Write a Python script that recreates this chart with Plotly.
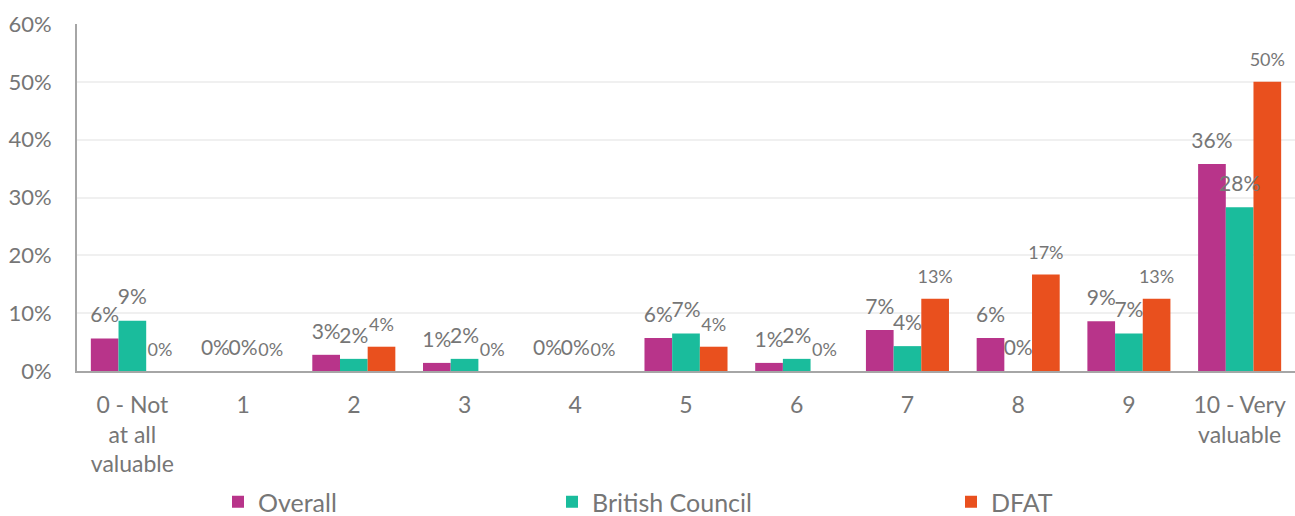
import plotly.graph_objects as go

categories = ["0 - Not<br>at all<br>valuable", "1", "2", "3", "4", "5", "6", "7", "8", "9", "10 - Very<br>valuable"]
overall = [0.056, 0.0, 0.028, 0.014, 0.0, 0.057, 0.014, 0.071, 0.057, 0.086, 0.358]
british_council = [0.087, 0.0, 0.021, 0.021, 0.0, 0.065, 0.021, 0.043, 0.0, 0.065, 0.283]
dfat = [0.0, 0.0, 0.042, 0.0, 0.0, 0.042, 0.0, 0.125, 0.167, 0.125, 0.50]
y_ticks = [0, 0.1, 0.2, 0.3, 0.4, 0.5, 0.6]

FONT = "Lato"
GREY = "#767676"
L = 77
W = 1295
H = 516
PW = W - L
BARGAP = 0.25

positions = list(range(len(categories)))
bar_w = (1 - BARGAP) / 3

fig = go.Figure()
series = [
    ("Overall", overall, "#B8348A", 21, "legend", 236),
    ("British Council", british_council, "#1ABC9C", 21, "legend2", 570),
    ("DFAT", dfat, "#E9501E", 18, "legend3", 969),
]
for name, vals, col, fs, lg, _ in series:
    fig.add_trace(go.Bar(
        x=positions, y=vals, name=name,
        marker=dict(color=col, line=dict(width=0)),
        legend=lg, showlegend=True, hoverinfo="y+name",
    ))
for k, (name, vals, col, fs, lg, _) in enumerate(series):
    fig.add_trace(go.Scatter(
        x=[p + (k - 1) * bar_w for p in positions], y=vals,
        mode="markers+text",
        marker=dict(size=16, opacity=0),
        text=[f"{int(v * 100 + 0.5)}%" for v in vals],
        textposition="top center",
        textfont=dict(family=FONT, size=fs, color=GREY),
        showlegend=False, hoverinfo="skip", cliponaxis=False,
    ))

layout_legends = {}
for name, vals, col, fs, lg, px in series:
    layout_legends[lg] = dict(
        x=(px - 18 - L) / PW, y=(H - 502) / H, yref="container",
        xanchor="left", yanchor="middle",
        font=dict(family=FONT, size=25, color=GREY), bgcolor="rgba(0,0,0,0)",
        itemwidth=30, tracegroupgap=0,
    )

fig.update_layout(
    width=W, height=H,
    margin=dict(l=L, r=0, t=24, b=145, autoexpand=False),
    plot_bgcolor="white", paper_bgcolor="white",
    showlegend=True,
    barmode="group", bargap=BARGAP, bargroupgap=0,
    font=dict(family=FONT, color=GREY),
    xaxis=dict(
        range=[-0.5, len(categories) - 0.5],
        tickvals=positions, ticktext=categories,
        showline=True, linecolor="#A6A6A6", linewidth=2,
        tickfont=dict(family=FONT, size=23, color=GREY), ticks="",
        showgrid=False, zeroline=False, ticklabelstandoff=12,
    ),
    yaxis=dict(
        range=[0, 0.6], tickvals=y_ticks, tickformat=".0%",
        showline=True, linecolor="#A6A6A6", linewidth=2,
        gridcolor="#F0F0F0", gridwidth=1.5, zeroline=False,
        tickfont=dict(family=FONT, size=22, color=GREY), ticks="",
        ticklabelstandoff=19,
    ),
    **layout_legends,
)

fig.write_html("out.html")
